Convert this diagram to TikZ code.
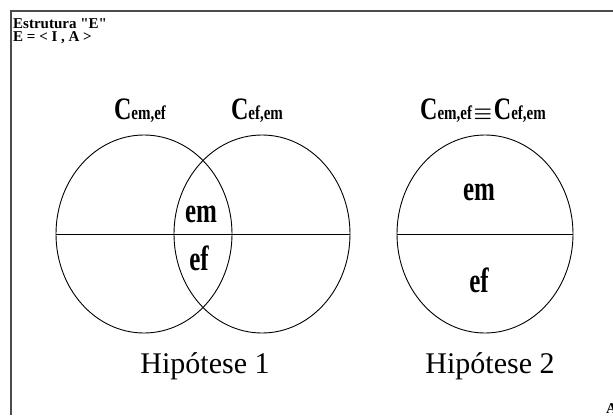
\documentclass[tikz,border=0pt]{standalone}
\usepackage{fontspec}
\setmainfont{Liberation Serif}
\usetikzlibrary{positioning}
\newcommand{\tallbox}[2]{\scalebox{1}[#1]{#2}}
\newcommand{\setC}[1]{\tallbox{1.3}{{\fontsize{24}{26}\selectfont\bfseries C}{\fontsize{15}{17}\selectfont\bfseries #1}}}

\begin{document}
\begin{tikzpicture}[x=1pt, y=-1pt,
    set/.style={line width=0.9pt},
    part/.style={font=\fontsize{25}{27}\selectfont\bfseries, inner sep=0pt},
    hyp/.style={font=\fontsize{30}{32}\selectfont, inner sep=0pt},
    small/.style={font=\fontsize{15}{17}\selectfont\bfseries\addfontfeatures{Ligatures=TeXOff}, inner sep=0pt}]
    \useasboundingbox (0,0) rectangle (613,415);

    % frame, only top and left edges fall inside
    \draw[line width=1.6pt, black!70] (613,11) -- (11,11) -- (11,415);

    % heading
    \node[small, anchor=base west] (head) at (13,28) {Estrutura "E"};
    \node[small, anchor=base west] (struct) at (13,41) {E = < I , A >};

    % Hipotese 1: two sets that overlap
    \coordinate (c1) at (144,234);
    \coordinate (c2) at (262,234);
    \draw[set] (c1) ellipse [x radius=88pt, y radius=99pt];
    \draw[set] (c2) ellipse [x radius=88pt, y radius=99pt];
    \draw[set] ([xshift=-88pt]c1) -- ([xshift=88pt]c2);
    \node[anchor=base] (l1) at (140,119) {\setC{em,ef}};
    \node[anchor=base] (l2) at (257,119) {\setC{ef,em}};
    \node[part, anchor=base] (em1) at (201,222) {\tallbox{1.4}{em}};
    \node[part, anchor=base] (ef1) at (199,270) {\tallbox{1.4}{ef}};
    \node[hyp, anchor=base] (h1) at (205,373) {Hipótese 1};

    % Hipotese 2: one set, both parts
    \coordinate (c3) at (485,234);
    \draw[set] (c3) ellipse [x radius=88pt, y radius=99pt];
    \draw[set] ([xshift=-88pt]c3) -- ([xshift=88pt]c3);
    \node[anchor=base] (l3) at (483,119)
        {\setC{em,ef}\,{\fontsize{20}{22}\selectfont\boldmath$\equiv$}\,\setC{ef,em}};
    \node[part, anchor=base] (em2) at (479,200) {\tallbox{1.4}{em}};
    \node[part, anchor=base] (ef2) at (479,292) {\tallbox{1.4}{ef}};
    \node[hyp, anchor=base] (h2) at (490,373) {Hipótese 2};

    % letter cut off by the right edge
    \node[small, anchor=base west] (cut) at (606,413) {A};
\end{tikzpicture}
\end{document}
